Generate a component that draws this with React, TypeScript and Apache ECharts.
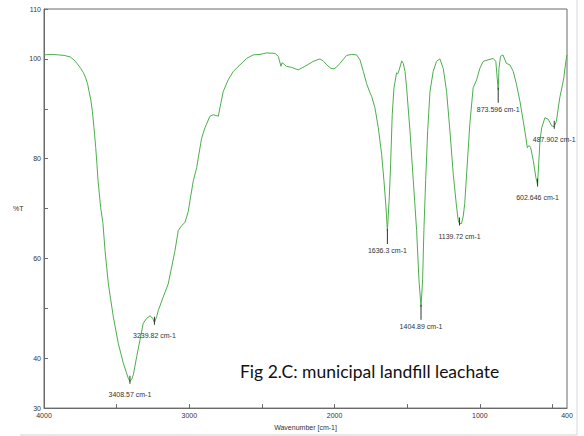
import React, { useEffect, useRef } from "react";
import * as echarts from "echarts";

const wavenumbers = [
  4000, 3950, 3900, 3862, 3820, 3794, 3770, 3748, 3730, 3713, 3700, 3690, 3678, 3667, 3656, 3644, 3636, 3628, 3610, 3594,
  3580, 3557, 3523, 3489, 3454, 3420, 3408.57, 3395, 3385, 3362, 3339, 3317, 3293, 3270, 3251, 3239.82, 3225, 3213, 3179,
  3145, 3121, 3098, 3076, 3052, 3030, 3007, 2990, 2972, 2949, 2938, 2915, 2892, 2858, 2835, 2810, 2800, 2789, 2766, 2732,
  2697, 2651, 2605, 2560, 2513, 2467, 2410, 2387, 2369, 2362, 2353, 2340, 2330, 2295, 2250, 2204, 2147, 2100, 2075, 2054,
  2025, 2004, 1985, 1963, 1917, 1882, 1848, 1825, 1802, 1779, 1756, 1745, 1722, 1699, 1676, 1660, 1646, 1636.3, 1623,
  1614, 1603, 1591, 1573, 1565, 1555, 1538, 1527, 1515, 1504, 1481, 1458, 1435, 1419, 1404.89, 1394, 1385, 1373, 1359,
  1343, 1321, 1298, 1275, 1252, 1229, 1206, 1183, 1160, 1148, 1139.72, 1126, 1114, 1104, 1091, 1069, 1046, 1022, 1000,
  977, 943, 908, 890, 880, 873.596, 868, 858, 841, 817, 793, 770, 747, 724, 701, 683, 673, 667, 660, 650, 632, 614,
  602.646, 595, 586, 574, 552, 529, 506, 487.902, 473, 450, 431, 422, 408, 400,
];

const transmittance = [
  100.8, 100.9, 100.8, 100.7, 100.4, 99.8, 99.0, 98.1, 97.3, 96.2, 95.0, 93.5, 91.8, 89.5, 86.2, 82.2, 79.0, 75.6, 70.2, 67.0,
  61.6, 54.9, 48.3, 43.0, 39.0, 36.0, 35.3, 35.9, 36.7, 40.3, 43.7, 47.0, 48.0, 48.5, 48.0, 47.1, 48.3, 49.6, 52.3,
  54.9, 58.3, 61.6, 65.6, 66.6, 67.2, 69.4, 72.5, 75.6, 78.2, 80.2, 84.1, 86.2, 88.5, 88.8, 88.6, 88.5, 90.2, 93.5, 95.8,
  97.5, 98.8, 100.1, 100.8, 100.9, 101.2, 101.1, 100.5, 98.5, 99.2, 99.1, 98.7, 98.5, 98.3, 97.8, 98.5, 99.5, 100.0, 99.5, 98.8,
  98.1, 98.0, 98.4, 99.1, 100.7, 100.9, 100.8, 99.8, 97.5, 95.0, 93.2, 92.5, 90.2, 86.2, 80.9, 75.6, 70.3, 65.5, 72.3,
  78.9, 88.8, 94.2, 97.2, 97.0, 97.8, 99.6, 99.1, 97.5, 94.2, 85.6, 75.6, 65.6, 55.7, 50.3, 55.7, 65.6, 75.6, 85.6,
  93.5, 97.5, 99.5, 100.0, 98.1, 93.5, 85.6, 76.9, 70.3, 67.5, 67.0, 67.0, 68.5, 71.0, 76.9, 86.9, 94.2, 95.8, 98.1,
  99.5, 99.8, 100.1, 99.5, 96.0, 93.8, 98.1, 100.5, 100.8, 99.1, 98.8, 97.5, 94.8, 91.5, 87.5, 84.2, 82.2, 82.5, 82.6, 82.2, 79.6, 76.2,
  74.8, 78.9, 83.6, 86.2, 88.2, 87.9, 86.6, 86.4, 87.5, 92.2, 94.8, 96.2, 99.5, 100.8,
];

const peakWavenumbers = ["3408.57", "3239.82", "1636.3", "1404.89", "1139.72", "873.596", "602.646", "487.902"];
const peakValues = [35.3, 47.1, 65.5, 50.3, 67.0, 93.8, 74.8, 86.4];
const longTickPeaks = ["1636.3", "1404.89", "873.596"];

const xLabelValues = [4000, 3000, 2000, 1000, 400];
const xTickValues = [3500, 3000, 2500, 2000, 1500, 1000, 500];
const yLabelValues = [30, 40, 60, 80, 100, 110];
const yTickValues = [30, 40, 50, 60, 70, 80, 90, 100, 110];

const title = "Fig 2.C: municipal landfill leachate";

export default function App() {
  const ref = useRef<HTMLDivElement>(null);
  useEffect(() => {
    if (!ref.current) return;
    const chart = echarts.init(ref.current, null, { renderer: "svg" });
    const font = "Liberation Sans, Arial, sans-serif";
    const seriesData = wavenumbers.map((w, i) => [w, transmittance[i]]);
    const markData = peakWavenumbers.map((p, i) => {
      const long = longTickPeaks.includes(p);
      return {
        coord: [parseFloat(p), peakValues[i]],
        symbol: "rect",
        symbolSize: long ? [1, 15] : [1, 8],
        symbolOffset: long ? [0, 5.5] : [0, -2],
        label: {
          show: true,
          position: "bottom",
          distance: long ? 3.5 : 7,
          formatter: p + " cm-1",
        },
      };
    });
    chart.setOption({
      animation: false,
      grid: {
        left: 44,
        right: 17,
        top: 9,
        bottom: 24,
        show: true,
        borderColor: "#6a6a6a",
        borderWidth: 1,
      },
      xAxis: {
        type: "value",
        inverse: true,
        min: 400,
        max: 4000,
        name: "Wavenumber [cm-1]",
        nameLocation: "middle",
        nameGap: 12,
        nameTextStyle: { fontSize: 7, color: "#333", fontFamily: font },
        axisLine: { show: true, lineStyle: { color: "#6a6a6a", width: 1 } },
        axisTick: { show: true, inside: true, length: 4, customValues: xTickValues, lineStyle: { color: "#6a6a6a" } },
        axisLabel: {
          show: true,
          customValues: xLabelValues,
          formatter: (v: number) => String(v),
          fontSize: 7,
          color: "#333",
          fontFamily: font,
          margin: 4,
          showMinLabel: true,
          showMaxLabel: true,
        },
        splitLine: { show: false },
      },
      yAxis: {
        type: "value",
        min: 30,
        max: 110,
        name: "%T",
        nameLocation: "middle",
        nameRotate: 0,
        nameGap: 20,
        nameTextStyle: { fontSize: 7, color: "#333", fontFamily: font, align: "center", verticalAlign: "middle" },
        axisLine: { show: true, lineStyle: { color: "#6a6a6a", width: 1 } },
        axisTick: { show: true, inside: true, length: 4, customValues: yTickValues, lineStyle: { color: "#6a6a6a" } },
        axisLabel: {
          show: true,
          customValues: yLabelValues,
          formatter: (v: number) => String(v),
          fontSize: 7,
          color: "#333",
          fontFamily: font,
          margin: 3,
          showMinLabel: true,
          showMaxLabel: true,
        },
        splitLine: { show: false },
      },
      series: [
        {
          type: "line",
          data: seriesData,
          showSymbol: false,
          symbol: "none",
          smooth: false,
          lineStyle: { color: "#4cae4c", width: 1 },
          itemStyle: { color: "#4cae4c" },
          markPoint: {
            silent: true,
            itemStyle: { color: "#333" },
            label: { fontSize: 7, color: "#333", fontFamily: font },
            data: markData,
          },
        },
      ],
      graphic: [
        {
          type: "text",
          left: 240,
          top: 362,
          style: {
            text: title,
            fontSize: 17.5,
            fontFamily: "Lato, sans-serif",
            fill: "#111",
          },
        },
        {
          type: "line",
          shape: { x1: 20, y1: 435, x2: 577, y2: 435 },
          style: { stroke: "#d0d0d0", lineWidth: 1 },
        },
        {
          type: "line",
          shape: { x1: 577, y1: 0, x2: 577, y2: 435 },
          style: { stroke: "#d8d8d8", lineWidth: 1 },
        },
      ],
    });
    return () => chart.dispose();
  }, []);
  return <div ref={ref} style={{ position: "absolute", left: 0, top: 0, width: 584, height: 436 }} />;
}
